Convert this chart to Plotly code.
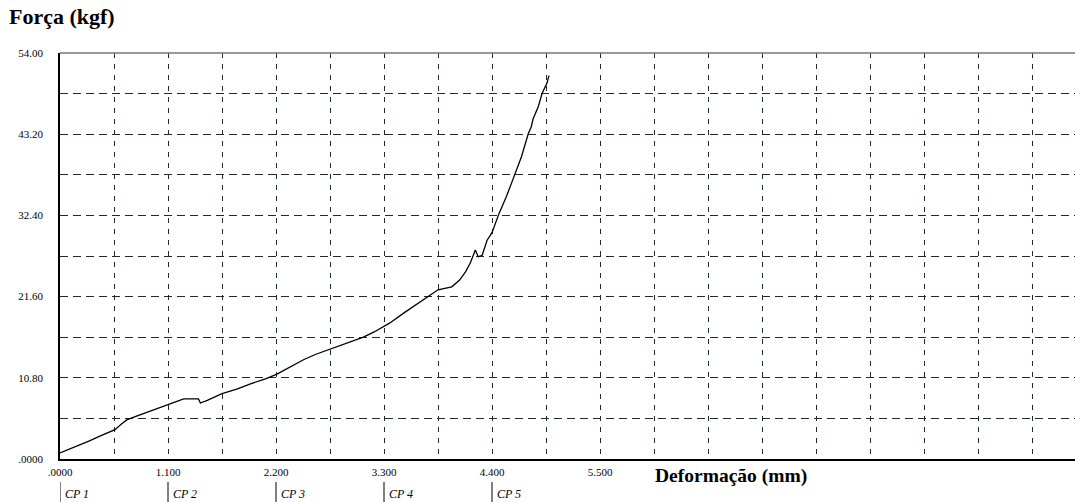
import plotly.graph_objects as go

# ---- data ----
deformacao = [0.00, 0.10, 0.20, 0.30, 0.40, 0.50, 0.56, 0.62, 0.68, 0.80, 0.90, 1.00, 1.10,
              1.20, 1.26, 1.35, 1.41, 1.43, 1.50, 1.65, 1.80, 1.94, 2.10, 2.21, 2.35, 2.48,
              2.60, 2.75, 2.90, 3.09, 3.20, 3.36, 3.50, 3.60, 3.72, 3.85, 3.99, 4.07, 4.13,
              4.18, 4.23, 4.26, 4.30, 4.35, 4.40, 4.45, 4.47, 4.55, 4.62, 4.70, 4.77, 4.80,
              4.82, 4.87, 4.91, 4.96, 4.98]
forca = [0.8, 1.3, 1.8, 2.4, 3.0, 3.5, 3.9, 4.6, 5.2, 5.8, 6.3, 6.8, 7.2,
         7.7, 8.0, 8.0, 8.0, 7.45, 7.8, 8.7, 9.3, 10.0, 10.7, 11.3, 12.3, 13.2,
         13.9, 14.6, 15.3, 16.2, 16.9, 18.1, 19.4, 20.3, 21.4, 22.5, 22.9, 23.8, 24.9,
         26.1, 27.8, 26.9, 27.1, 29.1, 30.1, 31.9, 32.6, 35.0, 37.5, 40.2, 43.3, 44.2,
         45.3, 46.8, 48.6, 50.0, 51.0]

x_grid = [0.55 * i for i in range(19)]
x_labels = {0: ".0000", 2: "1.100", 4: "2.200", 6: "3.300", 8: "4.400", 10: "5.500"}
x_ticktext = [x_labels.get(i, "") for i in range(len(x_grid))]

y_grid = [5.4 * i for i in range(11)]
y_labels = {0: ".0000", 2: "10.80", 4: "21.60", 6: "32.40", 8: "43.20", 10: "54.00"}
y_ticktext = [y_labels.get(i, "") for i in range(len(y_grid))]

cp_labels = ["CP 1", "CP 2", "CP 3", "CP 4", "CP 5"]
cp_positions = [0.0, 1.1, 2.2, 3.3, 4.4]

SERIF = "Liberation Serif, Times New Roman, serif"

fig = go.Figure()
fig.add_trace(go.Scatter(x=deformacao, y=forca, mode="lines",
                         line=dict(color="black", width=1.3), showlegend=False,
                         hoverinfo="skip"))

fig.update_xaxes(range=[0, 1015 / 108 * 1.1], tickmode="array", tickvals=x_grid,
                 ticktext=x_ticktext, showgrid=True, gridcolor="#1f2a2a",
                 griddash="5px,6px", gridwidth=1.3, zeroline=False,
                 showline=True, linecolor="black", linewidth=1.6, mirror=False,
                 ticks="", tickfont=dict(family=SERIF, size=11, color="black"),
                 ticklabelstandoff=2)
fig.update_yaxes(range=[0, 54], tickmode="array", tickvals=y_grid,
                 ticktext=y_ticktext, showgrid=True, gridcolor="#1f2a2a",
                 griddash="8px,5px", gridwidth=1.3, zeroline=False,
                 showline=True, linecolor="black", linewidth=1.6,
                 ticks="", tickfont=dict(family=SERIF, size=11, color="black"),
                 ticklabelstandoff=13)

# top border of plot area (gray)
fig.add_shape(type="line", xref="paper", yref="paper", x0=0, x1=1, y0=1, y1=1,
              line=dict(color="#777777", width=1.5))

fig.add_annotation(text="<b>Força (kgf)</b>", xref="paper", yref="paper",
                   x=-53 / 1015, y=1 + 36 / 406, xanchor="left", yanchor="middle",
                   showarrow=False, font=dict(family=SERIF, size=22, color="black"))
fig.add_annotation(text="<b>Deformação (mm)</b>", xref="paper", yref="paper",
                   x=(653 - 60) / 1015, y=(459 - 476) / 406, xanchor="left",
                   yanchor="middle", showarrow=False,
                   font=dict(family=SERIF, size=19.5, color="black"))

for lab, pos in zip(cp_labels, cp_positions):
    fig.add_shape(type="line", xref="x", yref="paper", x0=pos, x1=pos,
                  y0=(459 - 482) / 406, y1=(459 - 502) / 406,
                  line=dict(color="black", width=1))
    fig.add_annotation(text="<i>" + lab + "</i>", xref="x", yref="paper", x=pos,
                       y=(459 - 494) / 406, xanchor="left", yanchor="middle",
                       xshift=3, showarrow=False,
                       font=dict(family=SERIF, size=12, color="black"))

fig.update_layout(width=1075, height=502, margin=dict(l=60, r=0, t=53, b=43),
                  plot_bgcolor="white", paper_bgcolor="white")

fig.write_html("out.html", config={"displayModeBar": False},
               post_script="document.body.style.margin='0';document.body.style.overflow='hidden';")
